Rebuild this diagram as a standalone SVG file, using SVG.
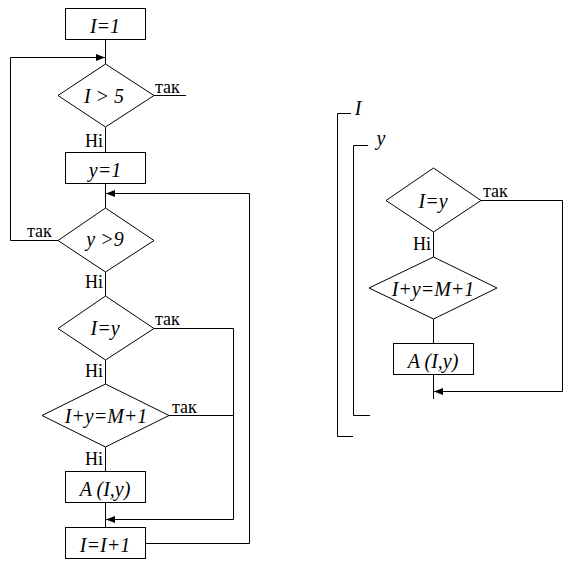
<svg xmlns="http://www.w3.org/2000/svg" width="570" height="565" viewBox="0 0 570 565">
<style>
.s{fill:#fff;stroke:#000;stroke-width:1}
.c{fill:none;stroke:#000;stroke-width:1}
.f{font-style:italic;font-size:20px;fill:#000;text-anchor:middle}
.l{font-size:18px;fill:#000}
</style>
<defs>
<marker id="ah" markerWidth="9" markerHeight="7" refX="9" refY="3.5" orient="auto" markerUnits="userSpaceOnUse">
<path d="M0,0 L9,3.5 L0,7 Z" fill="#000"/>
</marker>
</defs>
<rect width="570" height="565" fill="#fff"/>
<g id="connectors">
<path class="c" d="M105.5,40 V64"/>
<path class="c" d="M105.5,127 V152"/>
<path class="c" d="M105.5,184 V208"/>
<path class="c" d="M105.5,272 V296"/>
<path class="c" d="M105.5,360 V384"/>
<path class="c" d="M105.5,447 V471"/>
<path class="c" d="M105.5,503 V527"/>
<path class="c" d="M154,95.5 H186"/>
<path class="c" d="M58,240.5 H10.5 V57.5 H105" marker-end="url(#ah)"/>
<path class="c" d="M146,543.5 H249.5 V193.5 H106" marker-end="url(#ah)"/>
<path class="c" d="M154,328.5 H233.5 V519.5 H106" marker-end="url(#ah)"/>
<path class="c" d="M169,415.5 H233.5"/>
<path class="c" d="M351,113.5 H337.5 V436.5 H353"/>
<path class="c" d="M368,145.5 H353.5 V415.5 H370"/>
<path class="c" d="M433.5,232 V257"/>
<path class="c" d="M433.5,319 V343"/>
<path class="c" d="M433.5,375 V399"/>
<path class="c" d="M481,200.5 H562.5 V391.5 H434" marker-end="url(#ah)"/>
</g>
<g font-family="'Liberation Serif', 'DejaVu Serif', 'Times New Roman', serif">
<g id="n_i1"><rect class="s" x="65.5" y="8.5" width="80" height="31"/><text class="f" x="105" y="33">I=1</text></g>
<g id="n_d_i5"><polygon class="s" points="105.5,64 154,95.5 105.5,127 58,95.5"/><text class="f" x="104" y="103">I &gt; 5</text>
<text class="l" x="155" y="93">так</text><text class="l" x="103" y="147" text-anchor="end">Ні</text></g>
<g id="n_y1"><rect class="s" x="65.5" y="152.5" width="80" height="31"/><text class="f" x="105" y="177">y=1</text></g>
<g id="n_d_y9"><polygon class="s" points="105.5,208 154,240.5 105.5,272 58,240.5"/><text class="f" x="105" y="246">y &gt;9</text>
<text class="l" x="27" y="237">так</text><text class="l" x="103" y="288" text-anchor="end">Ні</text></g>
<g id="n_d_iy"><polygon class="s" points="105.5,296 154,328.5 105.5,360 58,328.5"/><text class="f" x="105" y="335">I=y</text>
<text class="l" x="155" y="325">так</text><text class="l" x="103" y="377" text-anchor="end">Ні</text></g>
<g id="n_d_m"><polygon class="s" points="105.5,384 169,415.5 105.5,447 42,415.5"/><text class="f" x="106" y="423">I+y=M+1</text>
<text class="l" x="172" y="413">так</text><text class="l" x="103" y="465" text-anchor="end">Ні</text></g>
<g id="n_a"><rect class="s" x="65.5" y="471.5" width="80" height="31"/><text class="f" x="105" y="496">A (I,y)</text></g>
<g id="n_inc"><rect class="s" x="65.5" y="527.5" width="80" height="31"/><text class="f" x="105" y="552">I=I+1</text></g>
<g id="r_loopI"><text class="f" x="358" y="115">I</text></g>
<g id="r_loopy"><text class="f" x="381" y="145">y</text></g>
<g id="r_d_iy"><polygon class="s" points="433.5,168 481,200.5 433.5,232 386,200.5"/><text class="f" x="433" y="208">I=y</text>
<text class="l" x="483" y="197">так</text><text class="l" x="431" y="250" text-anchor="end">Ні</text></g>
<g id="r_d_m"><polygon class="s" points="433.5,257 497,288 433.5,319 369,288"/><text class="f" x="433" y="296">I+y=M+1</text></g>
<g id="r_a"><rect class="s" x="393.5" y="343.5" width="80" height="31"/><text class="f" x="433" y="368">A (I,y)</text></g>
</g>
</svg>
